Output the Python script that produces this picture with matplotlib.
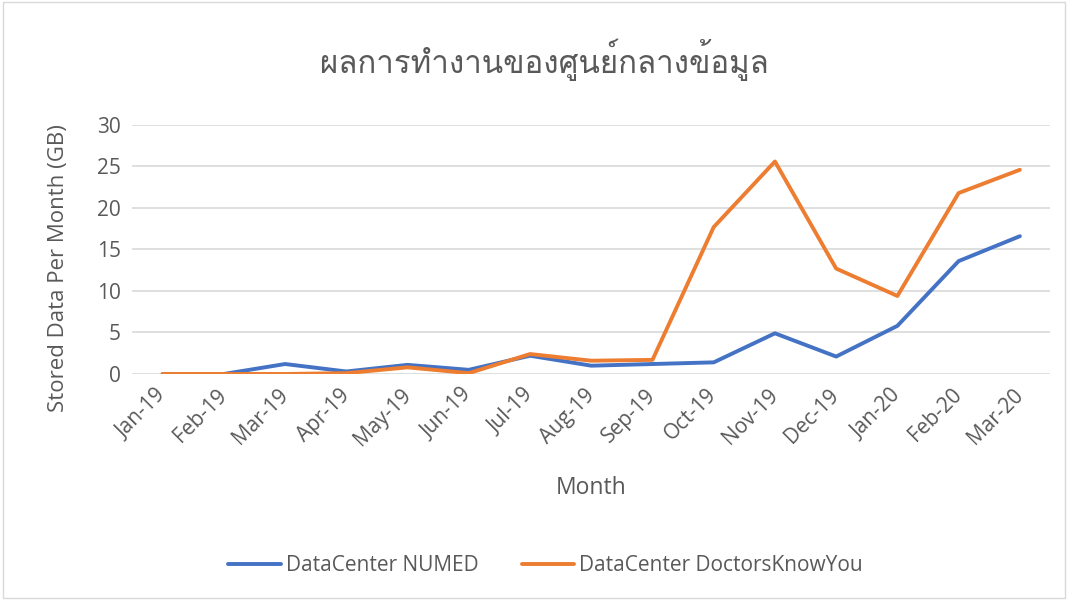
import matplotlib
matplotlib.use("Agg")
import matplotlib.pyplot as plt
from matplotlib import font_manager
from matplotlib.ft2font import FT2Font
from matplotlib.patches import Rectangle

# monthly stored data (GB)
months = ["Jan-19", "Feb-19", "Mar-19", "Apr-19", "May-19", "Jun-19", "Jul-19", "Aug-19",
          "Sep-19", "Oct-19", "Nov-19", "Dec-19", "Jan-20", "Feb-20", "Mar-20"]
numed = [0, 0, 1.2, 0.3, 1.1, 0.5, 2.2, 1.0, 1.2, 1.4, 4.9, 2.1, 5.8, 13.6, 16.6]
dky = [0, 0, 0, 0.1, 0.8, 0.1, 2.4, 1.6, 1.7, 17.7, 25.6, 12.7, 9.4, 21.8, 24.6]

title = "ผลการทำงานของศูนย์กลางข้อมูล"


def thai_family():
    # installed fonts with Thai glyphs, proportional sans faces first
    found = []
    for path in font_manager.findSystemFonts():
        try:
            if 0x0E1C not in FT2Font(path).get_charmap():
                continue
        except Exception:
            continue
        fp = font_manager.FontProperties(fname=path)
        name = fp.get_name()
        low = (name + " " + path).lower()
        score = 0
        if "mono" in low or "typo" in low:
            score += 10
        if "serif" in low:
            score += 5
        if "bold" in low or "italic" in low or "oblique" in low:
            score += 3
        if "noto sans thai" in low or "loma" in low or "garuda" in low or "sarabun" in low:
            score -= 5
        found.append((score, name))
    found.sort()
    return found[0][1] if found else None


base = "Open Sans"
tf = thai_family()
title_family = [tf, base] if tf else [base]

text_col = "#595959"
plt.rcParams['font.family'] = [base, 'DejaVu Sans']

fig = plt.figure(figsize=(10.68, 6), dpi=100)
ax = fig.add_axes([0.1236, 0.3767, 0.860, 0.415])

x = list(range(len(months)))
ax.plot(x, numed, color="#4472C4", lw=2.8, solid_capstyle="round", solid_joinstyle="round",
        label="DataCenter NUMED", zorder=3)
ax.plot(x, dky, color="#ED7D31", lw=2.8, solid_capstyle="round", solid_joinstyle="round",
        label="DataCenter DoctorsKnowYou", zorder=3)

ax.set_xlim(-0.5, len(months) - 0.5)
ax.set_ylim(0, 30)
ax.set_yticks(range(0, 31, 5))
ax.set_xticks(x)
ax.set_xticklabels(months, rotation=45, ha="right", va="center", rotation_mode="anchor")
ax.tick_params(axis="both", length=0, labelsize=15, colors=text_col)
ax.tick_params(axis="y", pad=8)
ax.tick_params(axis="x", pad=13)
ax.grid(axis="y", color="#D9D9D9", lw=1.2)
ax.set_axisbelow(True)
for s in ax.spines.values():
    s.set_visible(False)

ax.set_ylabel("Stored Data Per Month (GB)", fontsize=16, color=text_col, va="center")
ax.yaxis.set_label_coords(-0.0795, 0.426)
ax.set_xlabel("Month", fontsize=16.5, color=text_col, va="center")
ax.xaxis.set_label_coords(0.5, -0.458)

fig.text(0.51, 0.9, title, ha="center", va="center", fontsize=22.5, color=text_col,
         family=title_family)

ax.legend(loc="center", bbox_to_anchor=(0.511, 0.0567), bbox_transform=fig.transFigure,
          ncol=2, frameon=False, fontsize=15, labelcolor=text_col, handlelength=2.5,
          handletextpad=0.25, columnspacing=2.1)

fig.patches.append(Rectangle((0.003, 0.003), 0.994, 0.994, transform=fig.transFigure,
                             fill=False, edgecolor="#D9D9D9", lw=1))

fig.savefig("out.png", dpi=100)
